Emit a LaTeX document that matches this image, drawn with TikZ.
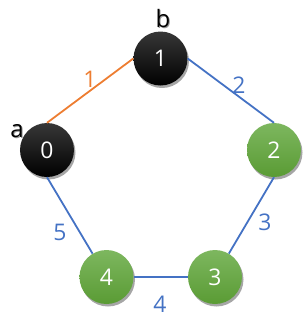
\documentclass[tikz,border=0pt]{standalone}
\usepackage{fontspec}
\setmainfont{Open Sans}
\usetikzlibrary{shadows}
\definecolor{eblue}{RGB}{68,114,196}
\definecolor{eorange}{RGB}{237,125,49}
\definecolor{gtop}{RGB}{125,183,95}
\definecolor{gbot}{RGB}{90,155,52}
\definecolor{btop}{RGB}{55,55,55}
\tikzset{
  vert/.style={circle, minimum size=54bp, inner sep=0pt, text=white,
    font=\fontsize{23}{26}\selectfont,
    drop shadow={shadow xshift=1.5bp, shadow yshift=-2.5bp, opacity=0.35, fill=black}},
  blackv/.style={vert, top color=btop, bottom color=black},
  greenv/.style={vert, top color=gtop, bottom color=gbot},
  edge/.style={line width=1.8bp, eblue},
  oedge/.style={line width=1.8bp, eorange},
  wlab/.style={font=\fontsize{23}{26}\selectfont, text=eblue, inner sep=0pt},
  olab/.style={wlab, text=eorange},
  tag/.style={font=\fontsize{24}{26}\selectfont, text=black, inner sep=0pt},
  tagsh/.style={font=\fontsize{24}{26}\selectfont, text=black!40, inner sep=0pt}
}
\begin{document}
\begin{tikzpicture}[x=1bp, y=-1bp]
\useasboundingbox (0,0) rectangle (307,333);
\node[blackv] (n1) at (160.5,58.5) {1};
\node[blackv] (n0) at (47,150) {0};
\node[greenv] (n2) at (274,150) {2};
\node[greenv] (n3) at (215,277) {3};
\node[greenv] (n4) at (106.5,277) {4};
\draw[oedge] (n0.north) -- (n1.west);
\draw[edge] (n1.east) -- (n2.north);
\draw[edge] (n2.south) -- (n3);
\draw[edge] (n3.west) -- (n4.east);
\draw[edge] (n0.south) -- (n4);
\node[olab] (l1) at (90,79) {1};
\node[wlab] (l2) at (239,85) {2};
\node[wlab] (l3) at (265,222) {3};
\node[wlab] (l4) at (160,304) {4};
\node[wlab] (l5) at (60,232) {5};
\node[tagsh] (ash) at (18,132) {a};
\node[tag] (a) at (17,131) {a};
\node[tagsh] (bsh) at (164,20) {b};
\node[tag] (b) at (163,19) {b};
\end{tikzpicture}
\end{document}
